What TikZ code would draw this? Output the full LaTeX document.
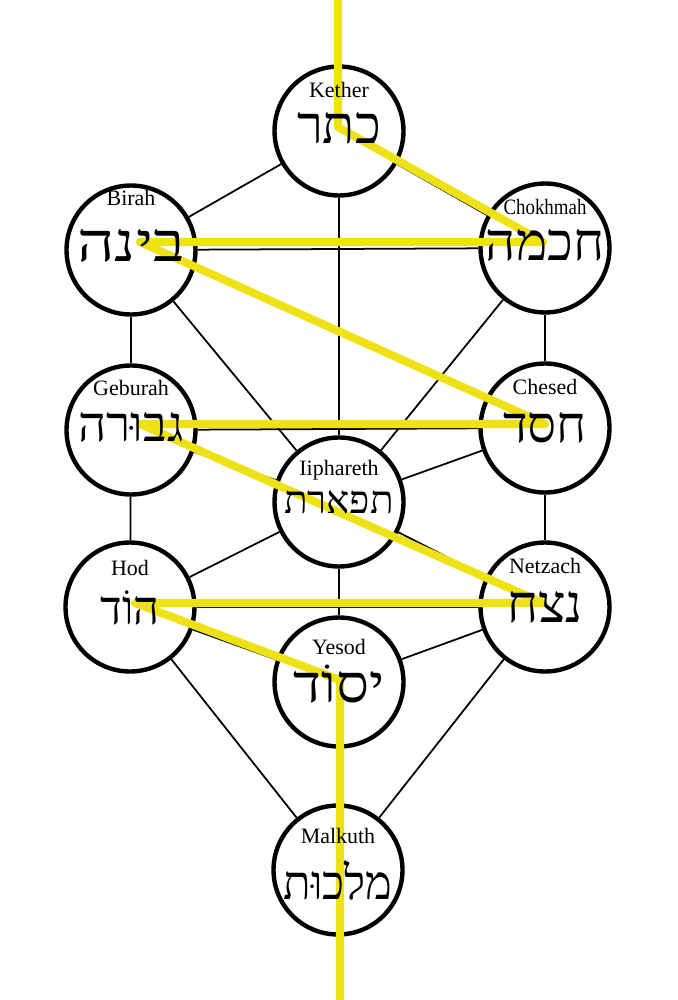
\documentclass[tikz,border=0pt]{standalone}
\usepackage{fontspec}
\setmainfont{Liberation Serif}
\newfontfamily\hebfont[Script=Hebrew]{Liberation Serif}
\TeXXeTstate=1
\usetikzlibrary{calc, backgrounds}
\definecolor{flashyellow}{RGB}{238,226,22}
\tikzset{
  sefira/.style={circle, draw=black, line width=2.5pt, fill=white,
    minimum size=2.58cm, inner sep=0pt},
  channel/.style={line width=1pt, black},
  flashline/.style={line width=4.6pt, flashyellow, line join=round},
  latinlbl/.style={inner sep=0pt, font=\fontsize{12.5}{14}\selectfont},
  heblbl/.style={inner sep=0pt}
}
\newcommand{\heb}[2]{\hebfont\fontsize{#1}{#1}\selectfont\beginR #2\endR}

\begin{document}
\begin{tikzpicture}[x=0.02cm, y=-0.02cm]
  \useasboundingbox (0,0) rectangle (677,1000);

  % the ten circles
  \node[sefira] (kether)    at (339,131) {};
  \node[sefira] (binah)     at (131,250) {};
  \node[sefira] (chokhmah)  at (545,248) {};
  \node[sefira] (geburah)   at (131,430) {};
  \node[sefira] (chesed)    at (545,428) {};
  \node[sefira] (tiphareth) at (339,502) {};
  \node[sefira] (hod)       at (130,607) {};
  \node[sefira] (netzach)   at (545,607) {};
  \node[sefira] (yesod)     at (339,682) {};
  \node[sefira] (malkuth)   at (338,870) {};

  % the 22 paths
  \begin{scope}[on background layer]
    \foreach \a/\b in {kether/chokhmah, kether/binah, kether/tiphareth,
        chokhmah/binah, chokhmah/tiphareth, chokhmah/chesed,
        binah/tiphareth, binah/geburah, chesed/geburah, chesed/tiphareth,
        chesed/netzach, geburah/tiphareth, geburah/hod, tiphareth/netzach,
        tiphareth/hod, tiphareth/yesod, netzach/hod, netzach/yesod,
        netzach/malkuth, hod/yesod, hod/malkuth, yesod/malkuth}
      \draw[channel] (\a) -- (\b);
  \end{scope}

  % lightning flash
  \coordinate (f0) at (338,0);
  \coordinate (f1) at (338,127);
  \coordinate (f2) at (543,242);
  \coordinate (f3) at (140,242);
  \coordinate (f4) at (545,424);
  \coordinate (f5) at (140,424);
  \coordinate (f6) at (543,603);
  \coordinate (f7) at (135,603);
  \coordinate (f8) at (340,680);
  \coordinate (f9) at (340,1000);
  \draw[flashline] (f0) -- (f1) -- (f2) -- (f3) -- (f4) -- (f5) -- (f6)
    -- (f7) -- (f8) -- (f9);

  % names: node/latin/hebrew/latin offset/hebrew offset/size/xscale/latin xscale
  \foreach \n/\lat/\hb/\ly/\hy/\sz/\xs/\lx in {
      kether/Kether/כתר/-41/-3/30/1/1,
      binah/Birah/בינה/-52/-4/31/1.2/1,
      chokhmah/Chokhmah/חכמה/-41/-3/30/1/0.86,
      geburah/Geburah/גבוּרה/-42/-3/28/1/1,
      chesed/Chesed/חסד/-41/0/29/1/1,
      tiphareth/Iiphareth/תפארת/-32/0/22/1/1,
      hod/Hod/הוֹד/-39/1/27/0.95/1,
      netzach/Netzach/נצח/-41/0/30/1/1,
      yesod/Yesod/יסוֹד/-35/2/30/1.1/1,
      malkuth/Malkuth/מלכוּת/-34/10/27/0.95/1} {
    \node[latinlbl, xscale=\lx] (\n-lat) at ($(\n)+(0,\ly)$) {\lat};
    \node[heblbl, xscale=\xs] (\n-heb) at ($(\n)+(0,\hy)$) {\heb{\sz}{\hb}};
  }
\end{tikzpicture}
\end{document}
